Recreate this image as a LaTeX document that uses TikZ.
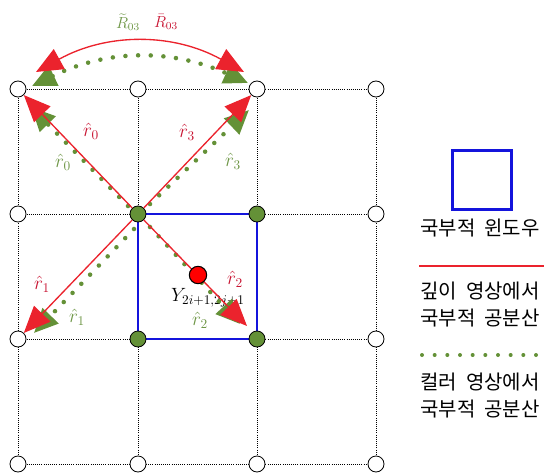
\documentclass[tikz,border=0pt]{standalone}
\usepackage{fontspec}
\newfontfamily\krfont[WordSpace=2]{Noto Sans CJK KR}
\definecolor{LineRed}{RGB}{235,35,45}
\definecolor{LabelRed}{RGB}{200,20,50}
\definecolor{DotGreen}{RGB}{100,145,55}
\definecolor{LabelGreen}{RGB}{110,150,70}
\definecolor{WinBlue}{RGB}{20,20,220}
\usetikzlibrary{arrows.meta,calc}

\tikzset{
  gridpt/.style={circle,draw=black,line width=0.6pt,fill=white,minimum size=12pt,inner sep=0pt},
  winpt/.style={gridpt,fill=DotGreen},
  gridline/.style={densely dotted,line width=0.6pt},
  rline/.style={LineRed,line width=1pt,-{Triangle[length=20pt,width=17pt]}},
  gline/.style={DotGreen,line width=3.4pt,line cap=round,dash pattern=on 0pt off 9.5pt,
    -{Triangle[length=18pt,width=16pt,line cap=butt]}},
  rlab/.style={LabelRed,font=\Large},
  glab/.style={LabelGreen,font=\Large},
  krtext/.style={anchor=west,inner sep=0pt,font=\krfont\fontsize{15}{18}\selectfont}
}

\begin{document}
\begin{tikzpicture}[x=0.75pt,y=-0.75pt]
      \useasboundingbox (0,0) rectangle (544,475);
      % grid of pixels
      \foreach \i/\x in {0/18,1/138,2/257,3/376}
        \foreach \j/\y in {0/89,1/214,2/339,3/464}
          \coordinate (p\i\j) at (\x,\y);
      \foreach \i in {0,...,3} {
        \draw[gridline] (p\i0) -- (p\i3);
        \draw[gridline] (p0\i) -- (p3\i);
      }
      \draw[WinBlue,line width=2.2pt] (p11) rectangle (p22);
      \foreach \i/\j in {0/0,1/0,2/0,3/0,0/1,3/1,0/2,3/2,0/3,1/3,2/3,3/3}
        \node[gridpt] (n\i\j) at (p\i\j) {};
      \foreach \i/\j in {1/1,2/1,1/2,2/2}
        \node[winpt] (n\i\j) at (p\i\j) {};

      \node[font=\Large] (ylab) at (208,298) {$Y_{2i+1,2j+1}$};

      % arrow ends
      \coordinate (t2) at (247,326);
      \coordinate (g0s) at (128,206);
      \coordinate (g0e) at (31,107);
      \coordinate (g3s) at (150,204);
      \coordinate (g3e) at (249,110);
      \coordinate (g1s) at (134,229);
      \coordinate (g1e) at (34,333);
      \coordinate (g2s) at (150,227);
      \coordinate (g2e) at (240,324);

      \draw[gline] (g0s) -- (g0e);
      \draw[gline] (g3s) -- (g3e);
      \draw[gline] (g1s) -- (g1e);
      \draw[gline] (g2s) -- (g2e);
      \draw[rline] (n11) -- (n00);
      \draw[rline] (n11) -- (n20);
      \draw[rline] (n11) -- (n02);
      \draw[rline] (n11) -- (t2);

      % arcs on top
      \coordinate (al) at (36,72);
      \coordinate (ar) at (244,72);
      \coordinate (bl) at (32,86);
      \coordinate (br) at (248,83);
      \draw[gline,{Triangle[length=18pt,width=16pt,line cap=butt]}-{Triangle[length=18pt,width=16pt,line cap=butt]}] (bl) to[bend left=25] (br);
      \draw[rline,{Triangle[length=20pt,width=17pt]}-{Triangle[length=20pt,width=17pt]}] (al) to[bend left=29] (ar);

      \node[circle,draw=black,line width=0.8pt,fill=red,minimum size=13pt,inner sep=0pt] (ypt) at (198,275) {};

      % labels
      \node[rlab] (r0) at (91,131) {$\hat{r}_0$};
      \node[glab] (s0) at (63,162) {$\hat{r}_0$};
      \node[rlab] (r3) at (187,132) {$\hat{r}_3$};
      \node[glab] (s3) at (233,161) {$\hat{r}_3$};
      \node[rlab] (r1) at (42,284) {$\hat{r}_1$};
      \node[glab] (s1) at (77,317) {$\hat{r}_1$};
      \node[rlab] (r2) at (235,279) {$\hat{r}_2$};
      \node[glab] (s2) at (200,320) {$\hat{r}_2$};
      \node[LabelGreen,font=\large,inner sep=0.5pt] (rg) at (128,22) {$\widetilde{R}_{03}$};
      \node[LabelRed,font=\large,inner sep=0.5pt] (rr) at (166,22) {$\bar{R}_{03}$};

      % legend
      \node[draw=WinBlue,line width=2.2pt,minimum width=44pt,minimum height=44pt,inner sep=0pt] (leg) at (482,180) {};
      \node[krtext] (t1) at (420,228) {국부적 윈도우};
      \coordinate (la) at (419,266);
      \coordinate (lb) at (544,266);
      \draw[LineRed,line width=1.5pt] (la) -- (lb);
      \node[krtext] (t2a) at (420,291) {깊이 영상에서};
      \node[krtext] (t2b) at (420,318) {국부적 공분산};
      \coordinate (lc) at (422,355);
      \coordinate (ld) at (544,355);
      \draw[DotGreen,line width=3pt,line cap=round,dash pattern=on 0pt off 9.5pt] (lc) -- (ld);
      \node[krtext] (t3a) at (420,382) {컬러 영상에서};
      \node[krtext] (t3b) at (420,409) {국부적 공분산};
\end{tikzpicture}
\end{document}
